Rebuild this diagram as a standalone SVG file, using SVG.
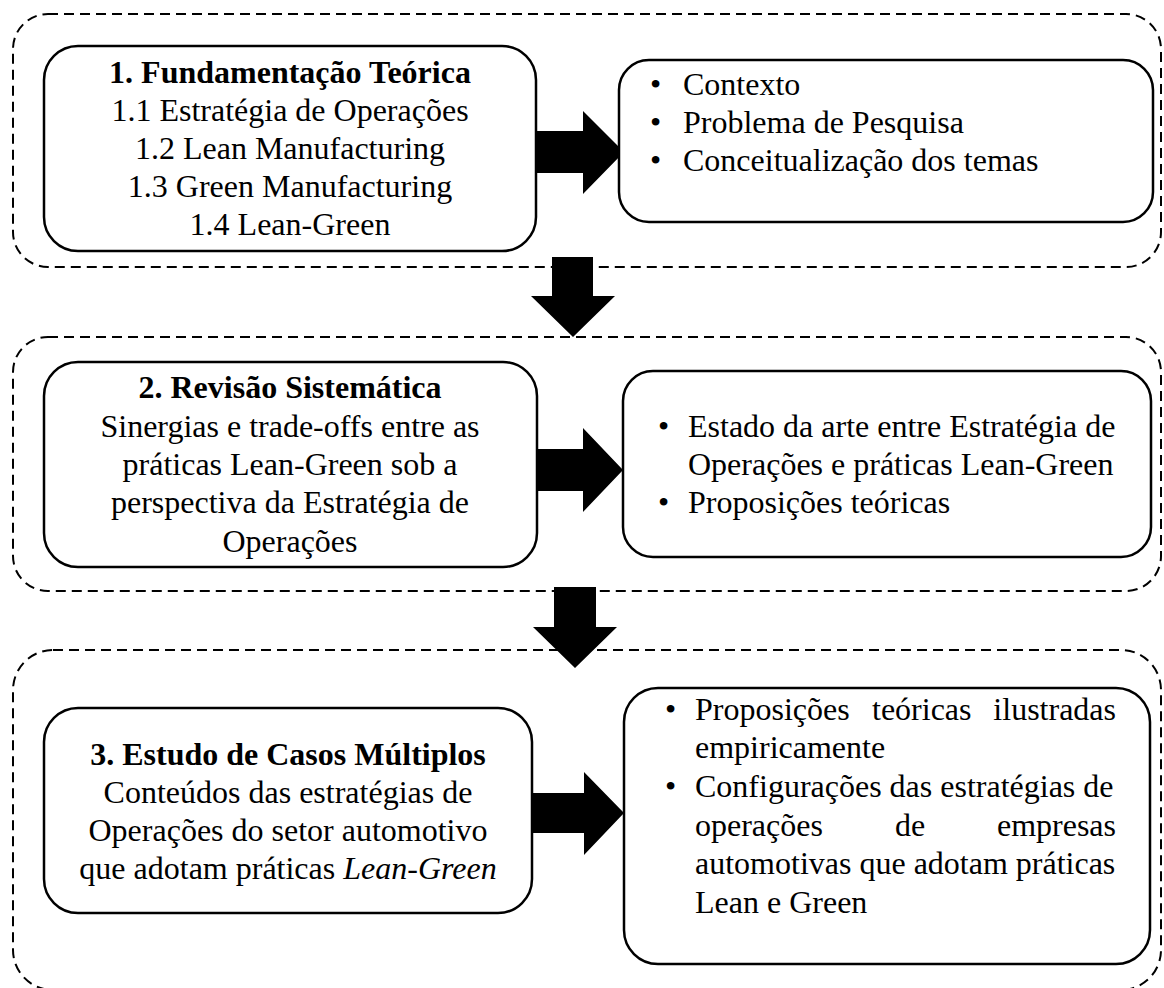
<svg xmlns="http://www.w3.org/2000/svg" width="1164" height="988" viewBox="0 0 1164 988">
  <style>
    .stage { fill: none; stroke: #000; stroke-width: 2; stroke-dasharray: 10 6; }
    .box { fill: #fff; stroke: #000; stroke-width: 2.5; }
    .arrow { fill: #000; stroke: none; }
    text { font-family: "Liberation Serif", "Times New Roman", serif; font-size: 32px; fill: #000; }
    .c { text-anchor: middle; }
    .b { font-weight: bold; }
    .i { font-style: italic; }
    .e { text-anchor: end; }
  </style>

  <rect width="1164" height="988" fill="#fff"/>

  <!-- dashed stage frames -->
  <g id="stages">
    <rect class="stage" x="13" y="14" width="1148" height="253" rx="35" ry="35"/>
    <rect class="stage" x="13" y="337" width="1148" height="254" rx="35" ry="35"/>
    <rect class="stage" x="13" y="650" width="1148" height="340" rx="40" ry="40"/>
  </g>

  <!-- block arrows -->
  <g id="connectors">
    <polygon class="arrow" points="534,131 583,131 583,111 624,152 583,194 583,173 534,173"/>
    <polygon class="arrow" points="533,449 583,449 583,428 623,470 583,512 583,491 533,491"/>
    <polygon class="arrow" points="523,793 584,793 584,772 624,813 584,855 584,833 523,833"/>
    <polygon class="arrow" points="552,257 593,257 593,296 615,296 573,337 531,296 552,296"/>
    <polygon class="arrow" points="554,587 596,587 596,627 617,627 575,668 533,627 554,627"/>
  </g>

  <!-- stage 1 -->
  <g id="fundamentacao">
    <rect class="box" x="44" y="46" width="492" height="205" rx="34" ry="34"/>
    <text class="c b" x="290" y="83">1. Fundamentação Teórica</text>
    <text class="c" x="290" y="121">1.1 Estratégia de Operações</text>
    <text class="c" x="290" y="159">1.2 Lean Manufacturing</text>
    <text class="c" x="290" y="197">1.3 Green Manufacturing</text>
    <text class="c" x="290" y="235">1.4 Lean-Green</text>
  </g>
  <g id="resultado1">
    <rect class="box" x="619" y="60" width="534" height="162" rx="30" ry="30"/>
    <text x="650" y="95">•</text><text x="683" y="95">Contexto</text>
    <text x="650" y="133">•</text><text x="683" y="133">Problema de Pesquisa</text>
    <text x="650" y="171">•</text><text x="683" y="171">Conceitualização dos temas</text>
  </g>

  <!-- stage 2 -->
  <g id="revisao">
    <rect class="box" x="44" y="362" width="493" height="205" rx="34" ry="34"/>
    <text class="c b" x="290" y="398">2. Revisão Sistemática</text>
    <text class="c" x="290" y="437">Sinergias e trade-offs entre as</text>
    <text class="c" x="290" y="475">práticas Lean-Green sob a</text>
    <text class="c" x="290" y="513">perspectiva da Estratégia de</text>
    <text class="c" x="290" y="552">Operações</text>
  </g>
  <g id="resultado2">
    <rect class="box" x="623" y="371" width="528" height="186" rx="30" ry="30"/>
    <text x="658" y="437">•</text><text x="688" y="437">Estado da arte entre Estratégia de</text>
    <text x="688" y="475">Operações e práticas Lean-Green</text>
    <text x="658" y="513">•</text><text x="688" y="513">Proposições teóricas</text>
  </g>

  <!-- stage 3 -->
  <g id="estudo">
    <rect class="box" x="44" y="708" width="488" height="205" rx="34" ry="34"/>
    <text class="c b" x="288" y="765">3. Estudo de Casos Múltiplos</text>
    <text class="c" x="288" y="803">Conteúdos das estratégias de</text>
    <text class="c" x="288" y="841">Operações do setor automotivo</text>
    <text class="c" x="288" y="879">que adotam práticas <tspan class="i">Lean</tspan>-<tspan class="i">Green</tspan></text>
  </g>
  <g id="resultado3">
    <rect class="box" x="624" y="688" width="526" height="276" rx="34" ry="34"/>
    <text x="665" y="720">•</text>
    <text x="695" y="720">Proposições</text>
    <text x="872" y="720">teóricas</text>
    <text class="e" x="1116" y="720">ilustradas</text>
    <text x="695" y="758">empiricamente</text>
    <text x="665" y="797">•</text>
    <text x="695" y="797">Configurações das estratégias de</text>
    <text x="695" y="836">operações</text>
    <text x="895" y="836">de</text>
    <text class="e" x="1116" y="836">empresas</text>
    <text x="695" y="874">automotivas que adotam práticas</text>
    <text x="695" y="913">Lean e Green</text>
  </g>
</svg>
